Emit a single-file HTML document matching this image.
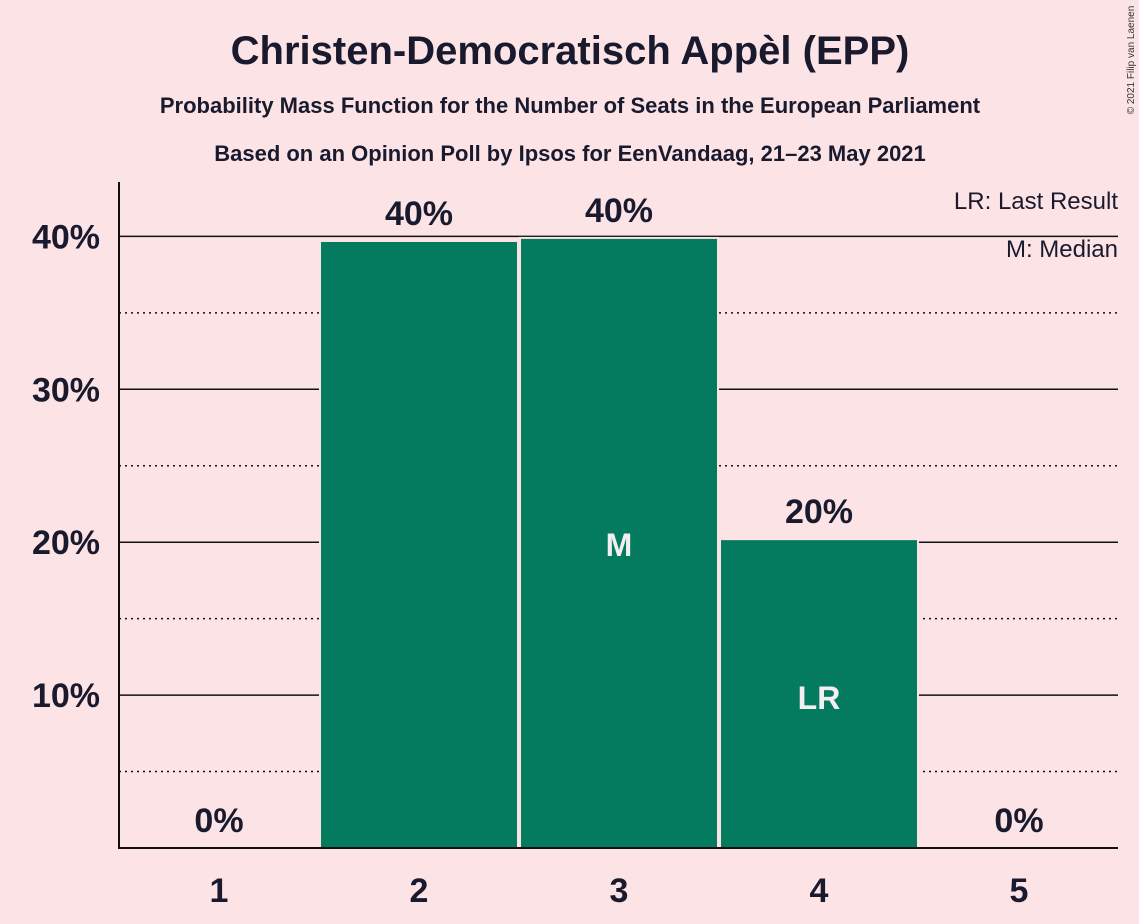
<!DOCTYPE html>
<html><head><meta charset="utf-8"><style>
body{margin:0;background:#fce4e6;}
svg{display:block;font-family:"Liberation Sans",sans-serif;}
</style></head><body>
<svg width="1139" height="924" viewBox="0 0 1139 924">
<rect width="1139" height="924" fill="#fce4e6"/>
<text x="570" y="64" text-anchor="middle" font-size="40" font-weight="bold" fill="#1a1a2e">Christen-Democratisch Appèl (EPP)</text>
<text x="570" y="113" text-anchor="middle" font-size="22" font-weight="bold" fill="#1a1a2e">Probability Mass Function for the Number of Seats in the European Parliament</text>
<text x="570" y="161" text-anchor="middle" font-size="22" font-weight="bold" fill="#1a1a2e">Based on an Opinion Poll by Ipsos for EenVandaag, 21–23 May 2021</text>
<text transform="translate(1134,60) rotate(-90)" text-anchor="middle" font-size="10" fill="#333">© 2021 Filip van Laenen</text>
<g id="grid"></g>
<g id="bars"></g>
<g id="labels"></g>
<line x1="119" y1="182" x2="119" y2="849" stroke="#111" stroke-width="2"/>
<line x1="118" y1="848" x2="1118" y2="848" stroke="#111" stroke-width="2"/>
<text x="1118" y="209" text-anchor="end" font-size="24" fill="#1a1a2e">LR: Last Result</text>
<text x="1118" y="257" text-anchor="end" font-size="24" fill="#1a1a2e">M: Median</text>
</svg>
<script>
const categories=[1,2,3,4,5];
const values=[0,39.7,39.9,20.2,0];
const valueLabels=["0%","40%","40%","20%","0%"];
const markers=["","","M","LR",""];
const yTicks=[10,20,30,40];
const yMinor=[5,15,25,35];
const NS="http://www.w3.org/2000/svg";
const y=v=>848-v*15.29;
const x=i=>119+i*200;
function mk(tag,attrs,parent){const e=document.createElementNS(NS,tag);for(const k in attrs)e.setAttribute(k,attrs[k]);document.getElementById(parent).appendChild(e);return e;}
yTicks.forEach(t=>{
 const l=mk('line',{x1:119,x2:1118,y1:y(t),y2:y(t),stroke:'#111','stroke-width':1.5},'grid');
 
 
 const tx=mk('text',{x:100,y:y(t)+12,'text-anchor':'end','font-size':34,'font-weight':'bold',fill:'#1a1a2e'},'grid');
 tx.textContent=t+'%';
 
 
});
yMinor.forEach(t=>{
 const l=mk('line',{x1:119,x2:1118,y1:y(t),y2:y(t),stroke:'#111','stroke-width':1.5,'stroke-dasharray':'2,4'},'grid');
 
 
});
categories.forEach((c,i)=>{
 const v=values[i];
 if(v>0){
  const r=mk('rect',{x:x(i)+1,y:y(v),width:198,height:848-y(v),fill:'#047a5f',stroke:'#fce4e6','stroke-width':2},'bars');
  
  
 }
 const t=mk('text',{x:x(i)+100,y:y(v)-16,'text-anchor':'middle','font-size':34,'font-weight':'bold',fill:'#1a1a2e'},'labels');
 t.textContent=valueLabels[i];
 
 
 const xl=mk('text',{x:x(i)+100,y:902,'text-anchor':'middle','font-size':34,'font-weight':'bold',fill:'#1a1a2e'},'labels');
 xl.textContent=c;
 
 
 if(markers[i]){
  const m=mk('text',{x:x(i)+100,y:markers[i]=='M'?y(20)+14:y(10)+14,'text-anchor':'middle','font-size':32,'font-weight':'bold',fill:'#f5eef0'},'labels');
  m.textContent=markers[i];
  
  
 }
});
</script>
</body></html>
